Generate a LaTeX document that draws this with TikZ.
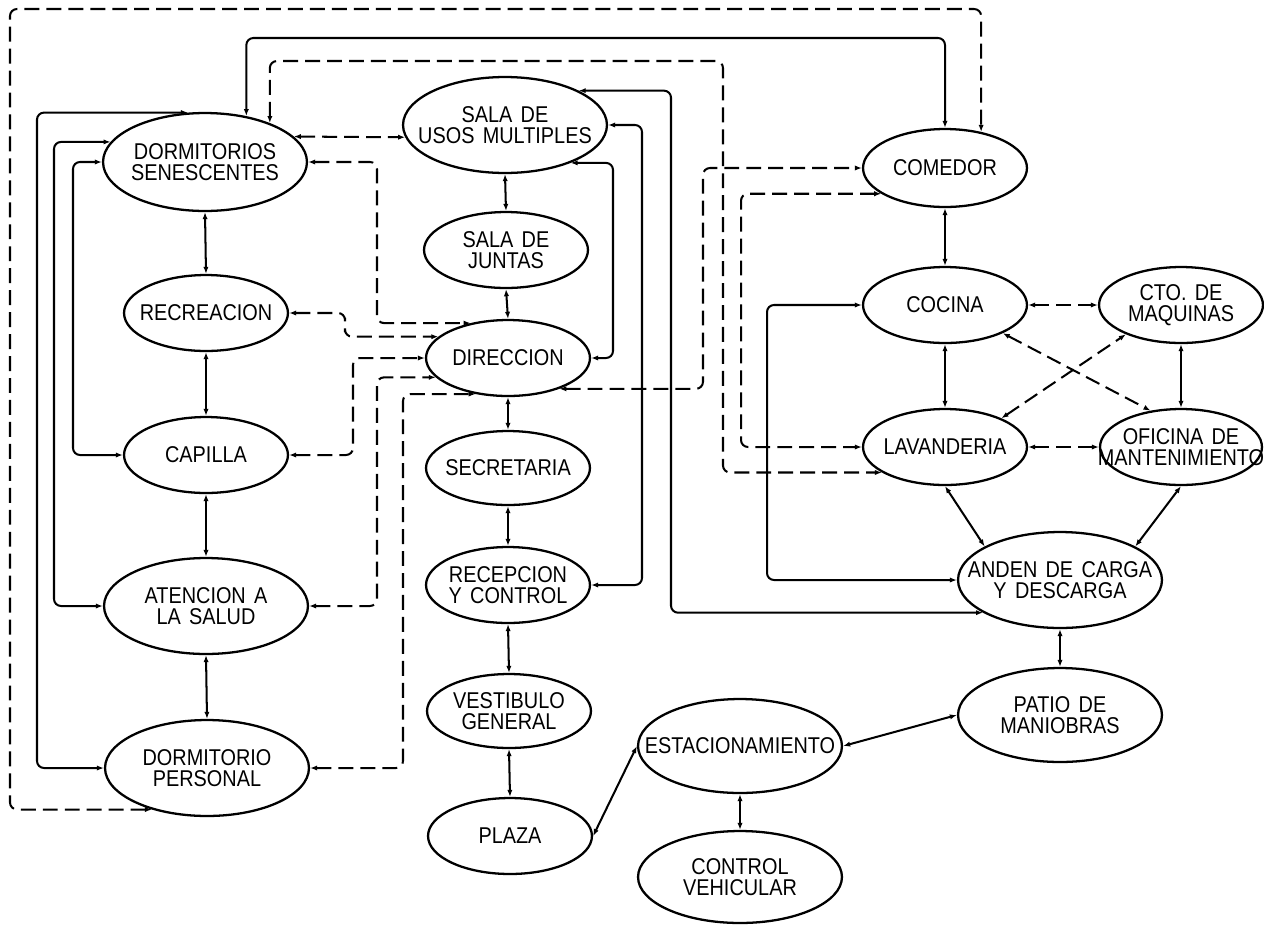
\documentclass[tikz,border=0pt]{standalone}
\usepackage{fontspec}
\newfontfamily\cadfont[FakeStretch=0.87,WordSpace=1.5]{Liberation Sans}
\usetikzlibrary{arrows.meta,shapes.geometric}
\tikzset{
  ell/.style={draw, ellipse, line width=1.3pt, inner sep=0pt},
  lbl/.style={font=\cadfont\fontsize{13}{11.8}\selectfont, align=center, inner sep=0pt},
  con/.style={line width=1.15pt, rounded corners=4pt,
    {Latex[length=4pt,width=3pt]}-{Latex[length=4pt,width=3pt]}},
  sl/.style={con},
  dl/.style={con, dash pattern=on 8.5pt off 4pt},
}
\newcommand\place[6]{%
  \node[ell, minimum width=#4*0.04cm, minimum height=#5*0.04cm] (#1) at (#2,#3) {};
  \node[lbl] (#1t) at (#1) {#6};}
\begin{document}
\begin{tikzpicture}[x=0.02cm,y=-0.02cm]
\useasboundingbox (0,0) rectangle (1264,924);
% nodes
\place{dsen}{205}{162}{102}{49}{DORMITORIOS\\SENESCENTES}
\place{rec}{206}{313}{82}{38}{RECREACION}
\place{cap}{206}{455}{82}{38}{CAPILLA}
\place{ate}{206}{606}{102}{48}{ATENCION A\\LA SALUD}
\place{dper}{207}{768}{102}{48}{DORMITORIO\\PERSONAL}
\place{usos}{505}{125}{102}{48}{SALA DE\\USOS MULTIPLES}
\place{jun}{506}{250}{82}{38}{SALA DE\\JUNTAS}
\place{dir}{508}{358}{82}{38}{DIRECCION}
\place{sec}{508}{468}{82}{37}{SECRETARIA}
\place{rcp}{508}{585}{82}{38}{RECEPCION\\Y CONTROL}
\place{ves}{509}{711}{82}{37}{VESTIBULO\\GENERAL}
\place{plz}{510}{836}{82}{38}{PLAZA}
\place{est}{740}{746}{102}{47}{ESTACIONAMIENTO}
\place{cv}{740}{877}{102}{46}{CONTROL\\VEHICULAR}
\place{pat}{1060}{715}{102}{47}{PATIO DE\\MANIOBRAS}
\place{anden}{1060}{580}{102}{48}{ANDEN DE CARGA\\Y DESCARGA}
\place{lav}{945}{447}{82}{38}{LAVANDERIA}
\place{ofi}{1181}{447}{81}{38}{OFICINA DE\\MANTENIMIENTO}
\place{coc}{945}{305}{82}{38}{COCINA}
\place{cto}{1181}{305}{82}{38}{CTO. DE\\MAQUINAS}
\place{com}{945}{168}{82}{39}{COMEDOR}
% straight solid connectors
\draw[sl] (dsen.south) -- (rec.north);
\draw[sl] (rec.south) -- (cap.north);
\draw[sl] (cap.south) -- (ate.north);
\draw[sl] (ate.south) -- (dper.north);
\draw[sl] (usos.south) -- (jun.north);
\draw[sl] (jun.south) -- (dir.north);
\draw[sl] (dir.south) -- (sec.north);
\draw[sl] (sec.south) -- (rcp.north);
\draw[sl] (rcp.south) -- (ves.north);
\draw[sl] (ves.south) -- (plz.north);
\draw[sl] (plz.east) -- (est.west);
\draw[sl] (est.south) -- (cv.north);
\draw[sl] (est.east) -- (pat.west);
\draw[sl] (anden.south) -- (pat.north);
\draw[sl] (com.south) -- (coc.north);
\draw[sl] (coc.south) -- (lav.north);
\draw[sl] (cto.south) -- (ofi.north);
\draw[sl] (lav.south) -- (anden.156);
\draw[sl] (ofi.south) -- (anden.24);
% straight dashed connectors
\draw[dl] (coc.east) -- (cto.west);
\draw[dl] (lav.east) -- (ofi.west);
\draw[dl] (coc.334) -- (ofi.130);
\draw[dl] (lav.27) -- (cto.208);
\draw[dl] (dsen.16) -- (usos.187);
% routed solid connectors (left)
\draw[sl] (dsen.109) -| (37,400) |- (dper.west);
\draw[sl] (dsen.168) -| (54,400) |- (ate.west);
\draw[sl] (dsen.west) -| (73,300) |- (cap.west);
\draw[sl] (dsen.48) |- (600,38) -| (com.north);
% routed solid connectors (centre)
\draw[sl] (usos.25) -| (671,300) |- (anden.203);
\draw[sl] (usos.east) -| (642,300) |- (rcp.east);
\draw[sl] (usos.330) -| (613,300) |- (dir.east);
\draw[sl] (coc.west) -| (767,400) |- (anden.west);
% routed dashed connectors
\draw[dl] (dper.217) -| (10,400) |- (600,9) -| (com.45);
\draw[dl] (dsen.31) |- (500,61) -| (723,300) |- (lav.202);
\draw[dl] (dsen.east) -| (377,250) |- (dir.137);
\draw[dl] (rec.east) -| (345,325) |- (dir.163);
\draw[dl] (cap.east) -| (353,400) |- (dir.west);
\draw[dl] (ate.east) -| (377,500) |- (dir.195);
\draw[dl] (dper.east) -| (403,600) |- (dir.228);
\draw[dl] (dir.329) -| (703,300) |- (com.west);
\draw[dl] (com.202) -| (741,300) |- (lav.west);
\end{tikzpicture}
\end{document}
